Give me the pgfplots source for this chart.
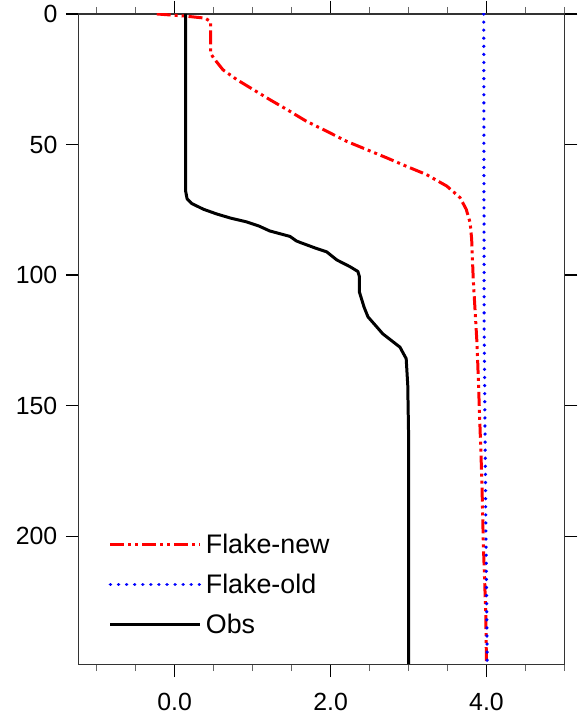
\documentclass[border=0pt]{standalone}
\usepackage{fontspec}
\setmainfont{Liberation Sans}
\usepackage{pgfplots}
\pgfplotsset{compat=1.18}
\begin{document}
\begin{tikzpicture}
\begin{axis}[
  scale only axis, width=487bp, height=652bp,
  xmin=-1.23, xmax=5.0, ymin=0, ymax=249, y dir=reverse,
  axis line style={line width=1.3bp, black!80},
  tick align=outside, tick pos=both,
  xtick={0,2,4}, xticklabels={0.0,2.0,4.0},
  minor xtick={-1,-0.5,0.5,1,1.5,2.5,3,3.5,4.5,5},
  ytick={0,50,100,150,200},
  major tick length=13bp, minor tick length=7bp,
  major tick style={line width=1.3bp, black},
  minor tick style={line width=1.1bp, black!60},
  /pgf/number format/assume math mode=true,
  tick label style={font=\fontsize{25}{29}\selectfont},
  xticklabel style={yshift=-13bp},
  yticklabel style={xshift=-5bp},
  legend style={draw=none, fill=none, at={(rel axis cs:0.055,0.036)}, anchor=south west,
    font=\fontsize{27}{31}\selectfont, row sep=11bp, legend cell align=left,
    nodes={inner sep=4bp}},
  legend image code/.code={\draw[#1] (0bp,0bp) -- (90bp,0bp);},
]
\addplot[red, line width=3bp, line join=round, dash pattern=on 14bp off 4bp on 3bp off 4bp on 3bp off 4bp] coordinates {
(-0.23,0) (0.13,0.8) (0.39,1.6) (0.46,2.9) (0.46,15) (0.50,16.9) (0.62,21.4) (0.80,25.2)
(1.01,29) (1.22,32.8) (1.44,36.6) (1.69,41.1) (1.95,44.9) (2.20,48.7) (2.46,51.9)
(2.72,55.1) (2.97,58.3) (3.23,61.5) (3.49,65.9) (3.66,70.3) (3.74,74.8) (3.79,79.9)
(3.81,86.3) (3.83,101.5) (3.88,127) (3.91,152.4) (3.94,177.9) (3.96,203.3) (3.99,228.7) (4.0,249)
};
\addlegendentry{Flake-new}
\addplot[blue, line width=3.5bp, line cap=round, dash pattern=on 0.1bp off 8bp] coordinates {
(3.965,0) (3.97,120) (3.99,190) (4.01,249)
};
\addlegendentry{Flake-old}
\addplot[black, line width=3bp, line join=round] coordinates {
(0.14,0) (0.14,67.8) (0.16,70.8) (0.22,72.6) (0.37,74.8) (0.54,76.6) (0.72,78.2) (0.92,79.6) (1.08,81.2) (1.22,83.1)
(1.48,85.2) (1.56,86.9) (1.61,87.5) (1.80,89.6) (1.95,91.1) (2.08,94.2) (2.25,96.8) (2.35,98.6) (2.37,100.6)
(2.37,106.5) (2.43,112.3) (2.48,116) (2.67,122.5) (2.89,127.6) (2.97,132) (2.99,142.2)
(3.0,160) (3.0,249)
};
\addlegendentry{Obs}
\end{axis}
\path ([xshift=-79bp,yshift=-57bp]current axis.south west) rectangle ([xshift=11bp,yshift=14bp]current axis.north east);
\end{tikzpicture}
\end{document}
